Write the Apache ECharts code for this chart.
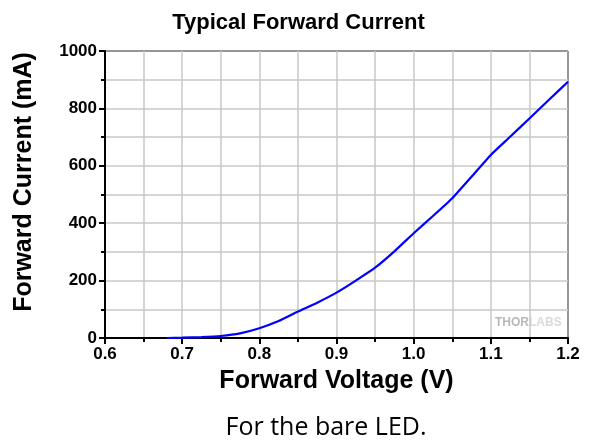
<!DOCTYPE html>
<html>
<head>
<meta charset="utf-8">
<script src="https://cdn.jsdelivr.net/npm/echarts@6/dist/echarts.min.js"></script>
<style>
  html, body { margin: 0; padding: 0; background: #fff; }
  #main { width: 597px; height: 441px; }
</style>
</head>
<body>
<div id="main"></div>
<script>
// forward voltage (V) vs current (mA)
const voltage = [0.68, 0.70, 0.725, 0.75, 0.775, 0.80, 0.825, 0.85, 0.875, 0.90, 0.925,
  0.95, 0.975, 1.0, 1.025, 1.05, 1.075, 1.1, 1.125, 1.15, 1.175, 1.2]
const current = [0, 1, 3, 7, 16, 34, 59, 92, 123, 158, 200,
  245, 302, 365, 425, 487, 562, 638, 701, 765, 829, 893]

const points = voltage.map((v, i) => [v, current[i]])

const font = '"Liberation Sans", Arial, sans-serif'
const grey = '#c8c8c8'

const myChart = echarts.init(document.getElementById('main'), null, { renderer: 'canvas' })

const option = {
  backgroundColor: '#fff',
  animation: false,
  title: {
    text: 'Typical Forward Current',
    left: 'center',
    top: 7,
    textStyle: { fontFamily: font, fontSize: 22, fontWeight: 'bold', color: '#000' }
  },
  grid: { left: 105, right: 29, top: 51, bottom: 103 },
  xAxis: {
    type: 'value',
    min: 0.6,
    max: 1.2,
    interval: 0.1,
    name: 'Forward Voltage (V)',
    nameLocation: 'middle',
    nameGap: 31,
    nameTextStyle: { fontFamily: font, fontSize: 25, fontWeight: 'bold', color: '#000' },
    axisLine: { show: true, lineStyle: { color: '#000', width: 2 } },
    axisTick: { show: true, length: 6, lineStyle: { color: '#000', width: 2 } },
    minorTick: { show: true, splitNumber: 2, length: 4, lineStyle: { color: '#000', width: 2 } },
    axisLabel: {
      fontFamily: font, fontSize: 17, fontWeight: 'bold', color: '#000', margin: 8,
      formatter: v => v.toFixed(1)
    },
    splitLine: { show: true, lineStyle: { color: grey, width: 1.5 } },
    minorSplitLine: { show: true, lineStyle: { color: grey, width: 1.5 } }
  },
  yAxis: {
    type: 'value',
    min: 0,
    max: 1000,
    interval: 200,
    axisLine: { show: true, lineStyle: { color: '#000', width: 2 } },
    axisTick: { show: true, length: 6, lineStyle: { color: '#000', width: 2 } },
    minorTick: { show: true, splitNumber: 2, length: 4, lineStyle: { color: '#000', width: 2 } },
    axisLabel: {
      fontFamily: font, fontSize: 17, fontWeight: 'bold', color: '#000', margin: 8,
      formatter: v => String(v)
    },
    splitLine: { show: true, lineStyle: { color: grey, width: 1.5 } },
    minorSplitLine: { show: true, lineStyle: { color: grey, width: 1.5 } }
  },
  graphic: [
    // right and top frame lines
    { type: 'line', shape: { x1: 105, y1: 51, x2: 568, y2: 51 }, style: { stroke: '#000', lineWidth: 2 } },
    { type: 'line', shape: { x1: 568, y1: 51, x2: 568, y2: 338 }, style: { stroke: '#000', lineWidth: 2 } },
    // y axis title sits a little above the plot's middle
    {
      type: 'text', x: 24, y: 182, rotation: Math.PI / 2,
      style: {
        text: 'Forward Current (mA)', fontFamily: font, fontSize: 25, fontWeight: 'bold',
        fill: '#000', align: 'center', verticalAlign: 'middle'
      }
    },
    {
      type: 'text', left: 495, top: 317,
      style: {
        text: '{a|THOR}{b|LABS}',
        rich: {
          a: { fontFamily: font, fontSize: 12, fontWeight: 'bold', fill: '#b8b8b8' },
          b: { fontFamily: font, fontSize: 12, fontWeight: 'bold', fill: '#dadada' }
        }
      }
    },
    {
      type: 'text', x: 326, y: 428,
      style: {
        text: 'For the bare LED.', fontFamily: '"Open Sans", "Noto Sans", sans-serif', fontSize: 25,
        fill: '#000', align: 'center', verticalAlign: 'middle'
      }
    }
  ],
  series: [{
    type: 'line',
    data: points,
    showSymbol: false,
    smooth: 0.15,
    lineStyle: { color: '#0000ff', width: 2.2 },
    z: 5
  }]
}

myChart.setOption(option)
</script>
</body>
</html>
